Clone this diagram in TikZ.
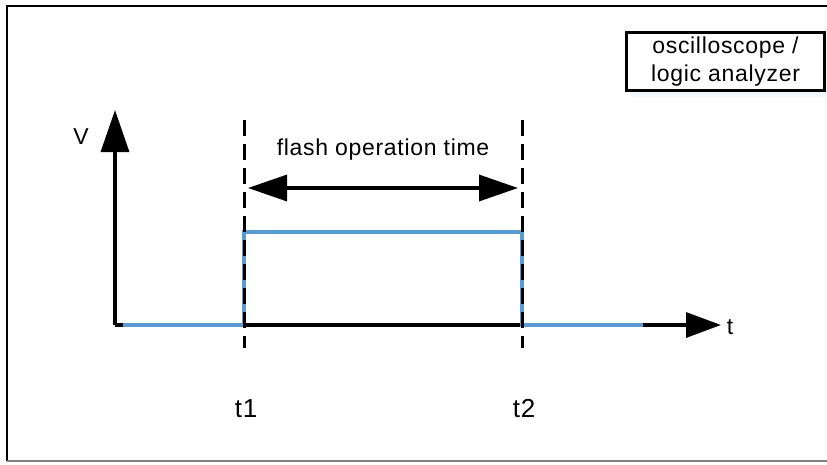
\documentclass[tikz,border=0pt]{standalone}
\usepackage{fontspec}
\setmainfont{Liberation Sans}[LetterSpace=3]
\usetikzlibrary{arrows.meta}
\begin{document}
\begin{tikzpicture}[x=1pt,y=-1pt,
  lbl/.style={font=\fontsize{23}{26}\selectfont, inner sep=0pt},
  tlbl/.style={font=\fontsize{26}{28}\selectfont, inner sep=0pt},
  axisline/.style={line width=3.3pt, black},
  sig/.style={line width=3.3pt, color=sigblue},
  guide/.style={line width=3pt, dash pattern=on 16pt off 8pt},
]
\definecolor{sigblue}{RGB}{91,155,213}
\useasboundingbox (0,0) rectangle (827,464);
% frame
\draw[line width=2.4pt] (827,6) -- (7,6) -- (7,461);
\draw[line width=1.8pt, gray] (7,461) -- (827,461);
% legend box
\fill[sigblue!8] (631,37) rectangle (829,97);
\node[draw, line width=3pt, fill=white, minimum width=198pt, minimum height=58pt, inner sep=0pt, align=center,
  font=\fontsize{23}{28}\selectfont] (box) at (725.5,61.5) {oscilloscope /\\logic analyzer};
% coordinates
\coordinate (o) at (115,325);
\coordinate (vtip) at (115,110);
\coordinate (ttip) at (721,325);
\coordinate (t1top) at (244,120);
\coordinate (t1bot) at (244,348);
\coordinate (t2top) at (522,120);
\coordinate (t2bot) at (522,348);
\coordinate (s0) at (123,325);
\coordinate (s1) at (244,325);
\coordinate (s2) at (244,232);
\coordinate (s3) at (522,232);
\coordinate (s4) at (522,325);
\coordinate (s5) at (643,325);
\coordinate (dl) at (248,188);
\coordinate (dr) at (518,188);
% axes
\draw[axisline, -{Triangle[length=42pt,width=28pt]}] (o) -- (vtip);
\draw[axisline, -{Triangle[length=35pt,width=25pt]}] (o) -- (ttip);
% signal
\draw[sig] (s0) -- (s1) -- (s2) -- (s3) -- (s4) -- (s5);
% guides
\draw[guide] (t1top) -- (t1bot);
\draw[guide] (t2top) -- (t2bot);
% duration arrow
\draw[axisline, {Triangle[length=39pt,width=26pt]}-{Triangle[length=39pt,width=26pt]}] (dl) -- (dr);
% labels
\node[lbl] (flash) at (383,150) {flash operation time};
\node[lbl] (vlab) at (81,137) {V};
\node[lbl] (tlab) at (730,327) {t};
\node[tlbl] (t1lab) at (246,409) {t1};
\node[tlbl] (t2lab) at (524,409) {t2};
\end{tikzpicture}
\end{document}
